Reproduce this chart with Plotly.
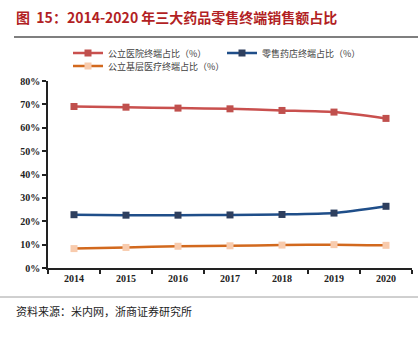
import plotly.graph_objects as go

years = ["2014", "2015", "2016", "2017", "2018", "2019", "2020"]
public_hospital = [69.1, 68.8, 68.4, 68.1, 67.4, 66.7, 64.0]
retail_pharmacy = [22.8, 22.6, 22.6, 22.7, 22.9, 23.5, 26.4]
primary_care = [8.3, 8.8, 9.3, 9.5, 9.8, 10.0, 9.7]
y_ticks = [0, 10, 20, 30, 40, 50, 60, 70, 80]
y_tick_text = [f"{v}%" for v in y_ticks]

W, H = 420, 341
PW, PH, L, T = 364, 187, 48, 81
fig = go.Figure()

legend_font = dict(family="Noto Sans CJK SC", size=9, color="#404040")

fig.add_trace(go.Scatter(
    x=years, y=public_hospital, name="公立医院终端占比（%）",
    mode="lines+markers", line=dict(color="#C9504E", width=2.5, shape="spline", smoothing=0.6),
    marker=dict(symbol="square", size=7, color="#C0504D"), legend="legend"))
fig.add_trace(go.Scatter(
    x=years, y=retail_pharmacy, name="零售药店终端占比（%）",
    mode="lines+markers", line=dict(color="#1F4E89", width=2.5, shape="spline", smoothing=0.6),
    marker=dict(symbol="square", size=7, color="#2E3F5E"), legend="legend2"))
fig.add_trace(go.Scatter(
    x=years, y=primary_care, name="公立基层医疗终端占比（%）",
    mode="lines+markers", line=dict(color="#D2691E", width=2.5, shape="spline", smoothing=0.6),
    marker=dict(symbol="square", size=7, color="#F8CBAD"), legend="legend3"))


def leg(px, py):
    return dict(orientation="h", x=(px - L) / PW, y=1 + (T - py) / PH, xanchor="left", yanchor="top",
                font=legend_font, itemwidth=30, bgcolor="rgba(0,0,0,0)", visible=True)


fig.update_layout(
    width=W, height=H,
    showlegend=True,
    margin=dict(l=L, r=W - L - PW, t=T, b=H - T - PH),
    paper_bgcolor="white", plot_bgcolor="white",
    legend=leg(68, 38.5),
    legend2=leg(222, 38.5),
    legend3=leg(68, 51.5),
    xaxis=dict(type="category", range=[-0.5, 6.5], tickson="boundaries", ticks="outside",
               ticklen=4, tickwidth=1.5, tickcolor="#222", showline=True, linecolor="#222", linewidth=1.5,
               showgrid=False, zeroline=False,
               tickfont=dict(family="Liberation Serif", size=10, color="#222", weight="bold")),
    yaxis=dict(range=[0, 80], tickvals=y_ticks, ticktext=y_tick_text, ticks="outside",
               ticklen=4, tickwidth=1.5, tickcolor="#222", showline=True, linecolor="#222", linewidth=1.5,
               showgrid=False, zeroline=False,
               tickfont=dict(family="Liberation Serif", size=10, color="#222", weight="bold")),
    annotations=[
        dict(text="<b>图  15：2014-2020 年三大药品零售终端销售额占比</b>", xref="paper", yref="paper",
             x=(14 - L) / PW, y=1 + (T - 17) / PH, xanchor="left", yanchor="middle", showarrow=False,
             font=dict(family="Noto Sans CJK SC", size=14, color="#B21F24")),
        dict(text="资料来源：米内网，浙商证券研究所", xref="paper", yref="paper",
             x=(14 - L) / PW, y=-(311 - T - PH) / PH, xanchor="left", yanchor="middle", showarrow=False,
             font=dict(family="Noto Sans CJK SC", size=11, color="#222")),
    ],
    shapes=[
        dict(type="line", xref="paper", yref="paper", x0=(14 - L) / PW, x1=(418 - L) / PW,
             y0=1 + (T - 37) / PH, y1=1 + (T - 37) / PH, line=dict(color="#7F7F7F", width=2)),
        dict(type="line", xref="paper", yref="paper", x0=(0 - L) / PW, x1=(418 - L) / PW,
             y0=-(297 - T - PH) / PH, y1=-(297 - T - PH) / PH, line=dict(color="#A0A0A0", width=1)),
    ],
)

fig.write_html("out.html")
